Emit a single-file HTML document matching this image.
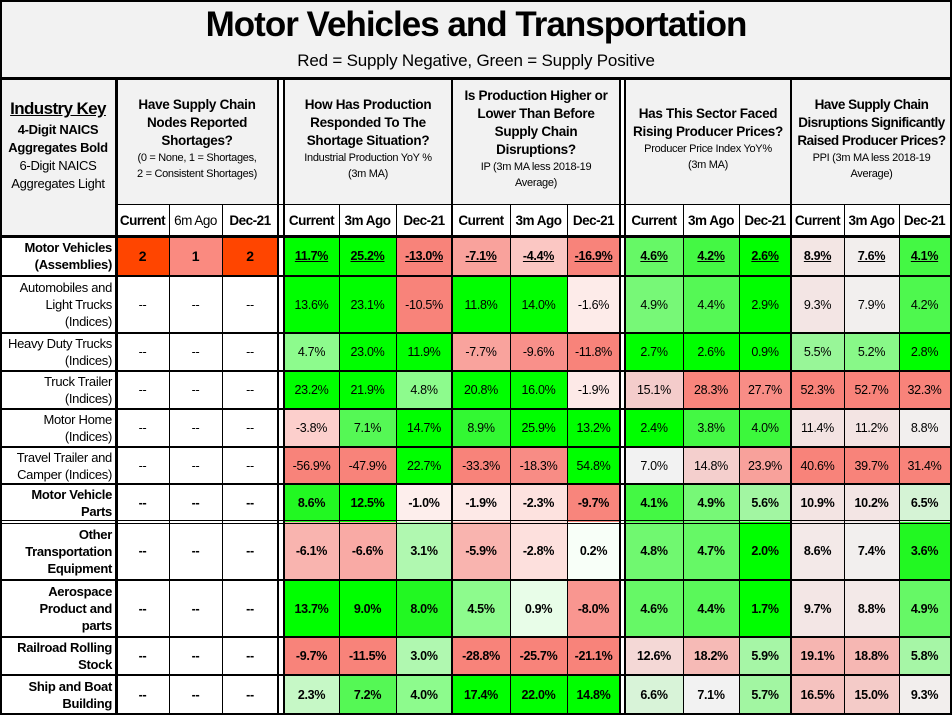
<!DOCTYPE html>
<html><head><meta charset="utf-8">
<style>
html,body{margin:0;padding:0;background:#fff;}
#t{position:relative;width:952px;height:715px;overflow:hidden;font-family:"Liberation Sans",sans-serif;color:#000;}
.c{position:absolute;box-sizing:border-box;display:flex;align-items:center;justify-content:center;text-align:center;font-size:12.5px;letter-spacing:-0.3px;}
.hl{position:absolute;background:#000;}
.hd{background:#f2f2f2;flex-direction:column;justify-content:flex-start;}
</style></head>
<body>
<div id="t">
 <div class="c" style="left:0;top:0;width:952px;height:78px;background:#f2f2f2;"></div>
 <div class="c" style="left:0;top:4px;width:952px;height:42px;font-size:35px;font-weight:bold;letter-spacing:-1px;">Motor Vehicles and Transportation</div>
 <div class="c" style="left:0;top:48px;width:952px;height:26px;font-size:17px;letter-spacing:-0.2px;">Red = Supply Negative, Green = Supply Positive</div>

 <div class="c hd" style="left:0;top:78px;width:116px;height:126px;justify-content:center;line-height:18px;font-size:13px;padding:8px 1px 0;">
  <span style="font-size:17px;font-weight:bold;text-decoration:underline;line-height:24px;letter-spacing:-0.6px;white-space:nowrap;">Industry Key</span>
  <b>4-Digit NAICS Aggregates Bold</b>
  <span>6-Digit NAICS Aggregates Light</span>
 </div>
 <div class="c hd" style="left:116px;top:78px;width:162px;height:126px;padding:18px 14px 0;">
  <b style="font-size:13.5px;line-height:18px;">Have Supply Chain Nodes Reported Shortages?</b>
  <span style="font-size:11px;line-height:16px;">(0 = None, 1 = Shortages,<br>2 = Consistent Shortages)</span>
 </div>
 <div class="c hd" style="left:284px;top:78px;width:168px;height:126px;padding:18px 12px 0;">
  <b style="font-size:13.5px;line-height:18px;">How Has Production Responded To The Shortage Situation?</b>
  <span style="font-size:11px;line-height:16px;">Industrial Production YoY %<br>(3m MA)</span>
 </div>
 <div class="c hd" style="left:452px;top:78px;width:168px;height:126px;padding:9px 8px 0;">
  <b style="font-size:13.5px;line-height:18px;">Is Production Higher or Lower Than Before Supply Chain Disruptions?</b>
  <span style="font-size:11px;line-height:16px;">IP (3m MA less 2018-19 Average)</span>
 </div>
 <div class="c hd" style="left:625px;top:78px;width:166px;height:126px;padding:27px 4px 0;">
  <b style="font-size:13.5px;line-height:18px;">Has This Sector Faced Rising Producer Prices?</b>
  <span style="font-size:11px;line-height:16px;">Producer Price Index YoY%<br>(3m MA)</span>
 </div>
 <div class="c hd" style="left:791px;top:78px;width:161px;height:126px;padding:18px 2px 0;">
  <b style="font-size:13.5px;line-height:18px;letter-spacing:-0.5px;">Have Supply Chain Disruptions Significantly Raised Producer Prices?</b>
  <span style="font-size:11px;line-height:16px;">PPI (3m MA less 2018-19<br>Average)</span>
 </div>
</div>
<script>
// ---- data ----
const industries = ["Motor Vehicles (Assemblies)","Automobiles and Light Trucks (Indices)","Heavy Duty Trucks (Indices)","Truck Trailer (Indices)","Motor Home (Indices)","Travel Trailer and Camper (Indices)","Motor Vehicle Parts","Other Transportation Equipment","Aerospace Product and parts","Railroad Rolling Stock","Ship and Boat Building"];
const boldRows = [true,false,false,false,false,false,true,true,true,true,true];
const subHeaders = ["Current","6m Ago","Dec-21","Current","3m Ago","Dec-21","Current","3m Ago","Dec-21","Current","3m Ago","Dec-21","Current","3m Ago","Dec-21"];
const shortages = [[2,1,2],null,null,null,null,null,null,null,null,null,null];
const prodYoY = [[11.7,25.2,-13.0],[13.6,23.1,-10.5],[4.7,23.0,11.9],[23.2,21.9,4.8],[-3.8,7.1,14.7],[-56.9,-47.9,22.7],[8.6,12.5,-1.0],[-6.1,-6.6,3.1],[13.7,9.0,8.0],[-9.7,-11.5,3.0],[2.3,7.2,4.0]];
const ipVsPre = [[-7.1,-4.4,-16.9],[11.8,14.0,-1.6],[-7.7,-9.6,-11.8],[20.8,16.0,-1.9],[8.9,25.9,13.2],[-33.3,-18.3,54.8],[-1.9,-2.3,-9.7],[-5.9,-2.8,0.2],[4.5,0.9,-8.0],[-28.8,-25.7,-21.1],[17.4,22.0,14.8]];
const ppiYoY = [[4.6,4.2,2.6],[4.9,4.4,2.9],[2.7,2.6,0.9],[15.1,28.3,27.7],[2.4,3.8,4.0],[7.0,14.8,23.9],[4.1,4.9,5.6],[4.8,4.7,2.0],[4.6,4.4,1.7],[12.6,18.2,5.9],[6.6,7.1,5.7]];
const ppiVsPre = [[8.9,7.6,4.1],[9.3,7.9,4.2],[5.5,5.2,2.8],[52.3,52.7,32.3],[11.4,11.2,8.8],[40.6,39.7,31.4],[10.9,10.2,6.5],[8.6,7.4,3.6],[9.7,8.8,4.9],[19.1,18.8,5.8],[16.5,15.0,9.3]];
// ---- cell fill styles (estimated from reference) ----
const G="#00ff00",R="#f8837a";
const fills=[
 ["#ff4500","#fa8a80","#ff4500",G,G,R,"#f9a29c","#fbc7c3",R,"#66f866","#44f844",G,"#f3e6e4","#f2eeed","#44f844"],
 [0,0,0,G,G,R,G,G,"#fdebe9","#77f877","#55f855",G,"#f3e5e4","#f2efee","#4ef84e"],
 [0,0,0,"#8dfb8d",G,G,"#f9a39d","#f9908a",R,G,G,G,"#98f698","#88f888",G],
 [0,0,0,G,G,"#8dfb8d",G,G,"#fde9e7","#f4cccb","#f8857c","#f88d86",R,R,R],
 [0,0,0,"#fccfcc","#55f855",G,"#33f833",G,G,G,"#44f844","#3cf83c","#f3e3e2","#f3e4e3","#f2efee"],
 [0,0,0,R,R,G,R,"#f88c85",G,"#f2f2f2","#f4cfcd","#f8a19b",R,R,R],
 [0,0,0,"#22f822",G,"#fdeeec","#fde9e7","#fde2df","#f8857c","#44f844","#77f877","#a2f6a2","#f3e4e3","#f3e5e4","#d5f3d5"],
 [0,0,0,"#f9b4af","#f9aaa5","#b0f8b0","#f9b4af","#fde0dd","#f8fff8","#70f870","#66f866",G,"#f3e9e8","#f2efee","#22f822"],
 [0,0,0,G,G,"#22f822","#8dfb8d","#e8fde8","#f99690","#66f866","#5af85a",G,"#f3e6e5","#f3e9e8","#66f866"],
 [0,0,0,R,R,"#b0f8b0",R,R,R,"#f4d8d6","#f6bab6","#a6f6a6","#f6b5b1","#f6b7b3","#a6f6a6"],
 [0,0,0,"#c6f8c6","#55f855","#8dfb8d",G,G,G,"#d8f3d8","#f2f2f2","#a2f6a2","#f5c2bf","#f4cbc8","#f2eeed"]
];
const colX=[116,169,222,278,284,339,396,452,510,567,620,625,683,739,791,844,899,950];
const colIdx=[[0,1],[1,2],[2,3],[4,5],[5,6],[6,7],[7,8],[8,9],[9,10],[11,12],[12,13],[13,14],[14,15],[15,16],[16,17]];
const rowY=[236,276,333,371,409,447,484,522,580,637,675,714];
const root=document.getElementById('t');
function cell(x,y,w,h,txt,name,st){
  const d=document.createElement('div');
  d.className='c';
  
  
  d.style.left=x+'px';d.style.top=y+'px';d.style.width=w+'px';d.style.height=h+'px';
  if(st) d.style.cssText+=st;
  d.innerHTML=txt;root.appendChild(d);return d;
}
function line(x,y,w,h){
  const d=document.createElement('div');d.className='hl';
  
  
  d.style.left=x+'px';d.style.top=y+'px';d.style.width=w+'px';d.style.height=h+'px';root.appendChild(d);
}
cell(0,204,116,32,'','industry-key-bottom','background:#f2f2f2;');
subHeaders.forEach((s,i)=>{
  const [a,b]=colIdx[i];
  cell(colX[a],204,colX[b]-colX[a],32,s,'subheader-'+s.toLowerCase().replace(/ /g,'-'),'font-size:13.5px;letter-spacing:-0.5px;background:#fff;'+(s==='6m Ago'?'font-weight:normal;':'font-weight:bold;'));
});
function fmt(v){return v.toFixed(1)+'%';}
industries.forEach((ind,r)=>{
  const y=rowY[r],h=rowY[r+1]-rowY[r];
  const b=boldRows[r];
  cell(0,y,116,h,ind,'row-label','justify-content:flex-end;text-align:right;padding-right:4px;padding-left:'+(b?14:6)+'px;line-height:17px;font-size:13px;'+(b?'font-weight:bold;':''));
  const vals=[];
  for(let k=0;k<3;k++) vals.push(shortages[r]?String(shortages[r][k]):'--');
  [prodYoY,ipVsPre,ppiYoY,ppiVsPre].forEach(arr=>arr[r].forEach(v=>vals.push(fmt(v))));
  vals.forEach((v,i)=>{
    const [a,bb]=colIdx[i];
    let st='background:'+(fills[r][i]||'#fff')+';';
    if(b) st+='font-weight:bold;';
    if(r===0 && i>=3) st+='text-decoration:underline;';
    if(r===0 && i<3) st+='font-size:14px;';
    cell(colX[a],y,colX[bb]-colX[a],h,v,'value-cell',st);
  });
});
rowY.forEach((y,i)=>{ if(i>0&&i<rowY.length-1&&i!==7) line(0,y-1,952,1.5); });
line(0,519.5,952,1.2);line(0,522.5,952,1.2);
line(0,234.5,952,3);line(116,203.5,836,1.5);line(0,77,952,2.5);
colX.forEach((x,i)=>{ if(i>0&&i<colX.length-1) line(x-0.5,204,1.5,511); });
line(114.5,78,3,637);
line(277,78,2,637);line(283,78,2,637);
line(451,78,2,637);
line(619,78,2,637);line(624,78,2,637);
line(790,78,2,637);
line(0,0,952,2);line(0,713,952,2);line(0,0,2,715);line(950,0,2,715);
</script>
</body></html>
